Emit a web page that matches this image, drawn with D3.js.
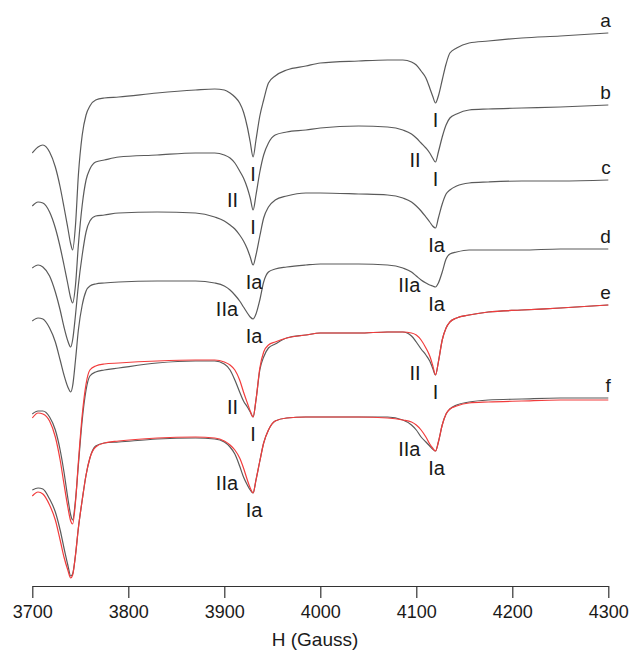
<!DOCTYPE html>
<html>
<head>
<meta charset="utf-8">
<script src="https://cdn.jsdelivr.net/npm/d3@7"></script>
<style>
  html, body { margin: 0; padding: 0; background: #fff; }
  svg { display: block; font-family: "Liberation Sans", Arial, Helvetica, sans-serif; }
</style>
</head>
<body>
<svg id="chart" width="634" height="651"></svg>
<script>
// Magnetic field grid (Gauss)
const field = [3700,3706,3711,3718,3724,3729,3733,3737,3740,3742,
  3745,3748,3752,3756,3760,3766,3775,3790,3830,3870,
  3890,3900,3906,3911,3916,3920,3924,3927,3930,3933,
  3937,3941,3946,3953,3965,3985,4000,4040,4070,4086,
  4095,4100,4105,4110,4114,4117,4120,4123,4127,4131,
  4135,4142,4155,4175,4210,4250,4300];

// Stacked spectra (arbitrary units, offsets included)
const traceA = [433,439,441,434,419,399,379,358,342,336,
  361,411,451,471,480,486,488,489,493,496,
  497,496,493,489,483,474,459,444,429,446,
  470,486,503,510,516,520,523,525,526,526,
  524,521,515,508,498,490,483,490,506,522,
  533,538,543,545,548,550,553];
const traceB = [380,384,383,374,358,339,321,302,288,283,
  301,341,381,406,417,424,426,429,431,433,
  433,431,428,423,415,408,398,388,376,391,
  414,431,443,451,454,456,458,460,459,456,
  452,448,443,438,433,428,424,434,449,461,
  468,472,476,477,478,479,481];
const traceC = [318,321,319,310,294,276,259,245,239,246,
  271,301,331,354,365,370,371,373,374,373,
  369,365,361,357,351,345,337,329,321,331,
  350,368,379,386,390,393,393,392,391,388,
  384,380,375,369,364,360,358,368,382,392,
  396,400,403,404,405,405,406];
const traceD = [265,268,267,258,244,226,211,199,194,200,
  226,256,281,295,300,302,303,304,305,305,
  303,300,296,291,285,279,273,269,267,272,
  286,304,314,317,319,321,322,322,321,318,
  314,310,306,303,301,300,299,303,314,327,
  332,334,336,336,336,337,337];
const traceE = [172,175,175,169,156,136,114,88,71,66,
  86,121,166,196,210,214,216,218,223,225,
  225,222,216,206,194,185,179,174,169,186,
  216,229,238,242,248,251,253,253,254,254,
  250,244,237,231,225,218,211,224,246,258,
  264,268,271,274,276,278,281];
const traceEfit = [168,173,172,165,149,126,102,79,65,62,
  84,124,171,202,216,220,222,223,225,226,
  226,224,221,216,206,194,183,175,169,186,
  218,234,241,244,248,251,253,253,254,254,
  253,251,246,238,230,221,211,224,246,258,
  264,268,271,274,276,278,281];
const traceF = [96,98,97,87,74,56,38,21,10,12,
  31,58,86,111,128,140,143,144,147,148,
  147,144,139,132,120,109,101,96,93,106,
  125,143,156,165,168,169,169,169,169,166,
  161,156,149,144,140,137,135,144,161,172,
  177,181,184,186,187,188,188];
const traceFfit = [90,94,92,81,66,46,29,16,8,11,
  31,58,86,111,128,139,143,145,148,149,
  148,145,141,136,128,118,106,98,93,106,
  125,143,156,165,168,169,169,169,168,166,
  164,161,156,149,142,138,135,144,161,172,
  177,180,183,184,185,186,186];

const traceNames = ["a","b","c","d","e","f"];
const experimental = [traceA, traceB, traceC, traceD, traceE, traceF];
const simulated = [null, null, null, null, traceEfit, traceFfit];

const xTicks = [3700,3800,3900,4000,4100,4200,4300];
const xTitle = "H (Gauss)";

// Site labels: [trace index, field of the line, text, kind]
const siteLabels = [
  [0, 3930, "I", "main"], [0, 4120, "I", "main"],
  [1, 3930, "I", "main"], [1, 3930, "II", "shoulder"],
  [1, 4120, "I", "main"], [1, 4120, "II", "shoulder"],
  [2, 3930, "Ia", "main"], [2, 4120, "Ia", "main"],
  [3, 3930, "Ia", "main"], [3, 3930, "IIa", "shoulder"],
  [3, 4120, "Ia", "main"], [3, 4120, "IIa", "shoulder"],
  [4, 3930, "I", "main"], [4, 3930, "II", "shoulder"],
  [4, 4120, "I", "main"], [4, 4120, "II", "shoulder"],
  [5, 3930, "Ia", "main"], [5, 3930, "IIa", "shoulder"],
  [5, 4120, "Ia", "main"], [5, 4120, "IIa", "shoulder"]
];

const svg = d3.select("#chart");
const x = d3.scaleLinear().domain([3700, 4300]).range([32.3, 608.3]);
const y = d3.scaleLinear().domain([0, 586]).range([586, 0]);

const line = d3.line()
  .x((d, i) => x(field[i]))
  .y(d => y(d))
  .curve(d3.curveMonotoneX);

const gTraces = svg.append("g");
experimental.forEach((tr, k) => {
  gTraces.append("path")
    .attr("d", line(tr))
    .attr("fill", "none")
    .attr("stroke", "#5a5a5a")
    .attr("stroke-width", 1.2)
    .attr("stroke-linejoin", "round");
  if (simulated[k]) {
    gTraces.append("path")
      .attr("d", line(simulated[k]))
      .attr("fill", "none")
      .attr("stroke", "#f23c3c")
      .attr("stroke-width", 1.2)
      .attr("stroke-linejoin", "round");
  }
});

// trace letters
traceNames.forEach((nm, k) => {
  const tr = experimental[k];
  svg.append("text")
    .attr("x", x(4300) + 2.5)
    .attr("y", y(tr[tr.length - 1]) - 6)
    .attr("text-anchor", "end")
    .attr("font-size", 19)
    .attr("fill", "#1a1a1a")
    .text(nm);
});

// site labels
siteLabels.forEach(([k, f, txt, kind]) => {
  const i = field.indexOf(f);
  const v = experimental[k][i];
  const t = svg.append("text")
    .attr("font-size", 20)
    .attr("fill", "#1a1a1a")
    .text(txt);
  if (kind === "main") {
    t.attr("x", x(f) + (txt === "Ia" ? 1 : 0))
     .attr("y", y(v) + 24)
     .attr("text-anchor", "middle");
  } else {
    t.attr("x", x(f) - 15)
     .attr("y", y(v) + (f < 4000 ? -3 : 5))
     .attr("text-anchor", "end");
  }
});

// x axis
const axis = d3.axisBottom(x)
  .tickValues(xTicks)
  .tickFormat(d3.format("d"))
  .tickSize(12)
  .tickSizeOuter(0)
  .tickPadding(7);
const gx = svg.append("g")
  .attr("transform", `translate(0,${y(0)})`)
  .call(axis);
gx.select(".domain").attr("stroke", "#333").attr("stroke-width", 1.2);
gx.selectAll(".tick line").attr("stroke", "#333").attr("stroke-width", 1.2);
gx.selectAll(".tick text")
  .attr("font-size", 18)
  .attr("font-family", "'Liberation Sans', Arial, sans-serif")
  .attr("fill", "#1a1a1a");

svg.append("text")
  .attr("x", 315)
  .attr("y", 646)
  .attr("text-anchor", "middle")
  .attr("font-size", 19)
  .attr("fill", "#1a1a1a")
  .text(xTitle);
</script>
</body>
</html>
